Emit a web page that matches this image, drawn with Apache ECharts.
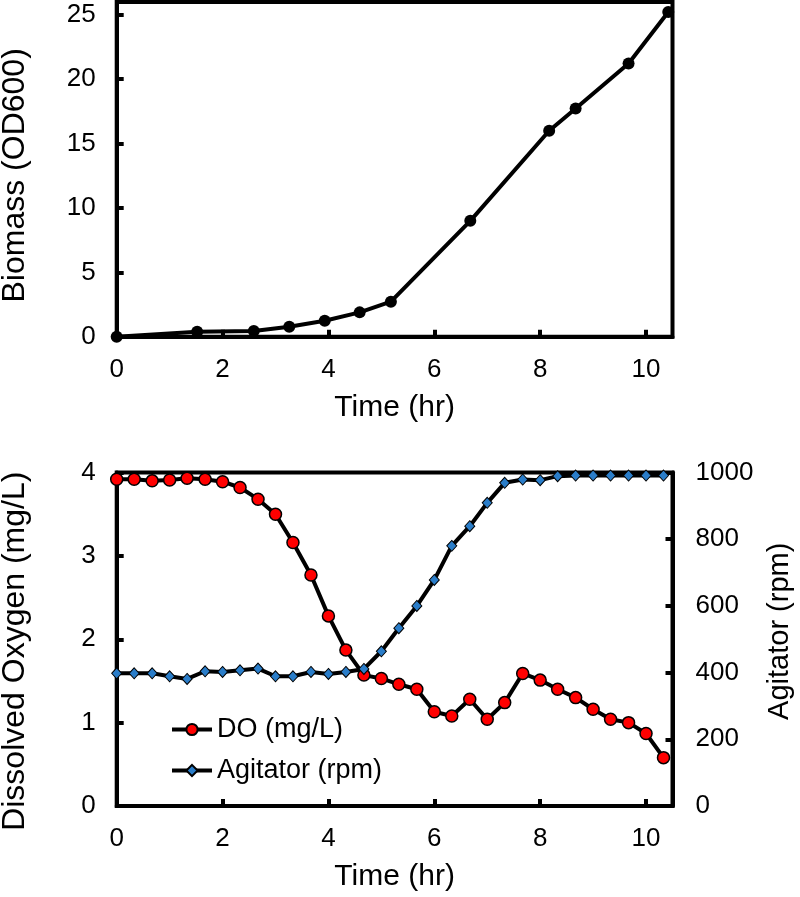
<!DOCTYPE html>
<html><head><meta charset="utf-8">
<script src="https://cdn.jsdelivr.net/npm/echarts@6/dist/echarts.min.js"></script>
<style>html,body{margin:0;padding:0;background:#fff}#c{width:800px;height:897px}</style>
</head><body><div id="c"></div>
<script>
// Top panel: biomass
const biomassTime = [0, 1.52, 2.59, 3.26, 3.93, 4.59, 5.18, 6.68, 8.17, 8.67, 9.67, 10.42];
const biomassOD   = [0, 0.39, 0.44, 0.78, 1.24, 1.89, 2.72, 9.0, 16.0, 17.73, 21.23, 25.23];

// Bottom panel: dissolved oxygen and agitator
const doTime = [0, 0.33, 0.67, 1, 1.33, 1.67, 2, 2.33, 2.67, 3, 3.33, 3.67, 4, 4.33, 4.67, 5,
                5.33, 5.67, 6, 6.33, 6.67, 7, 7.33, 7.67, 8, 8.33, 8.67, 9, 9.33, 9.67, 10, 10.33];
const doValues = [3.92, 3.92, 3.90, 3.91, 3.93, 3.92, 3.89, 3.82, 3.68, 3.50, 3.16, 2.77, 2.28, 1.87, 1.57, 1.53,
                  1.46, 1.40, 1.13, 1.08, 1.28, 1.04, 1.24, 1.59, 1.51, 1.40, 1.30, 1.16, 1.04, 1.00, 0.87, 0.58];
const agitatorRpm = [398, 398, 398, 389, 381, 404, 402, 407, 412, 389, 389, 402, 396, 402, 411, 464,
                     533, 600, 678, 780, 839, 909, 969, 979, 977, 989, 991, 991, 991, 991, 991, 991];

const seriesNames = ['DO (mg/L)', 'Agitator (rpm)'];
const F = 'Liberation Sans, Arial, sans-serif';
const LW = 4;

const chart = echarts.init(document.getElementById('c'), null, {renderer: 'canvas'});

function axisCommon() {
  return {
    axisLine: {show: true, onZero: false, lineStyle: {color: '#000', width: LW}},
    axisTick: {show: true, inside: true, length: 7, lineStyle: {color: '#000', width: LW}},
    splitLine: {show: false},
    nameLocation: 'middle'
  };
}
const plain = v => String(v);
function xAxisCfg(g) {
  return Object.assign(axisCommon(), {
    type: 'value', gridIndex: g, min: 0, max: 10.5, interval: 2,
    name: 'Time (hr)', nameGap: 56,
    nameTextStyle: {fontSize: 30, color: '#000', fontFamily: F},
    axisLabel: {fontSize: 26, color: '#000', margin: 20, fontFamily: F, showMaxLabel: false, formatter: plain}
  });
}

const option = {
  animation: false,
  backgroundColor: '#fff',
  grid: [
    {left: 116.7, top: 2, width: 555.8, height: 334.7, show: true, borderColor: '#000', borderWidth: LW,
     containLabel: false, outerBoundsMode: 'none'},
    {left: 116.7, top: 472.5, width: 555.8, height: 333.5, show: true, borderColor: '#000', borderWidth: LW,
     containLabel: false, outerBoundsMode: 'none'}
  ],
  xAxis: [xAxisCfg(0), xAxisCfg(1)],
  yAxis: [
    Object.assign(axisCommon(), {
      type: 'value', gridIndex: 0, min: 0, max: 26, interval: 5,
      name: 'Biomass (OD600)', nameGap: 86, nameRotate: 90,
      nameTextStyle: {fontSize: 32, color: '#000', fontFamily: F, padding: [0, 12, 0, 0]},
      axisLabel: {fontSize: 26, color: '#000', margin: 21, fontFamily: F, showMaxLabel: false, formatter: plain}
    }),
    Object.assign(axisCommon(), {
      type: 'value', gridIndex: 1, min: 0, max: 4, interval: 1,
      name: 'Dissolved Oxygen (mg/L)', nameGap: 86, nameRotate: 90,
      nameTextStyle: {fontSize: 32, color: '#000', fontFamily: F, padding: [0, 24, 0, 0]},
      axisLabel: {fontSize: 26, color: '#000', margin: 21, fontFamily: F, formatter: plain}
    }),
    Object.assign(axisCommon(), {
      type: 'value', gridIndex: 1, position: 'right', min: 0, max: 1000, interval: 200,
      name: 'Agitator (rpm)', nameGap: 93, nameRotate: 90,
      nameTextStyle: {fontSize: 29, color: '#000', fontFamily: F, padding: [0, 0, 0, 16]},
      axisLabel: {fontSize: 26, color: '#000', margin: 23, fontFamily: F, formatter: plain}
    })
  ],
  legend: {
    data: seriesNames,
    orient: 'vertical',
    left: 165, top: 711,
    itemWidth: 40, itemHeight: 14, itemGap: 14,
    lineStyle: {color: '#000', width: LW},
    textStyle: {fontSize: 27, color: '#000', fontFamily: F}
  },
  series: [
    {
      name: 'Biomass', type: 'line', xAxisIndex: 0, yAxisIndex: 0, clip: false,
      data: biomassTime.map((t, i) => [t, biomassOD[i]]),
      symbol: 'circle', symbolSize: 12,
      itemStyle: {color: '#000'},
      lineStyle: {color: '#000', width: LW}
    },
    {
      name: seriesNames[0], type: 'line', xAxisIndex: 1, yAxisIndex: 1, clip: false,
      data: doTime.map((t, i) => [t, doValues[i]]),
      symbol: 'circle', symbolSize: 12,
      itemStyle: {color: '#ff0000', borderColor: '#000', borderWidth: 1.5},
      lineStyle: {color: '#000', width: LW}
    },
    {
      name: seriesNames[1], type: 'line', xAxisIndex: 1, yAxisIndex: 2, clip: false,
      data: doTime.map((t, i) => [t, agitatorRpm[i]]),
      symbol: 'diamond', symbolSize: [10, 11],
      itemStyle: {color: '#2a7dc9', borderColor: '#000', borderWidth: 1},
      lineStyle: {color: '#000', width: LW}
    }
  ]
};
chart.setOption(option);
</script>
</body></html>
